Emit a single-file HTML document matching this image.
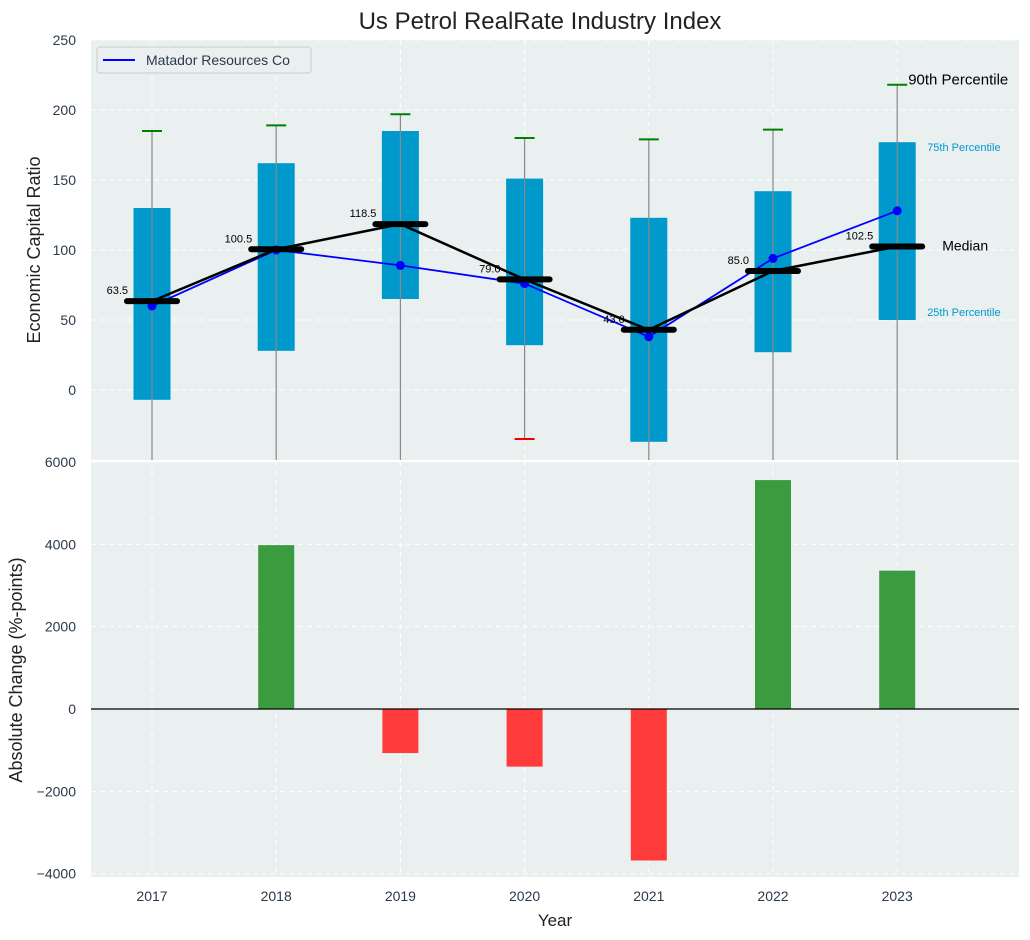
<!DOCTYPE html>
<html><head><meta charset="utf-8"><style>
body{margin:0;background:#fff;}
svg{display:block;font-family:"Liberation Sans",sans-serif;}
</style></head><body>
<svg id="c" width="1030" height="940" xmlns="http://www.w3.org/2000/svg"></svg>
<script>
const years=["2017","2018","2019","2020","2021","2022","2023"];
const q25=[-7,28,65,32,-37,27,50];
const q75=[130,162,185,151,123,142,177];
const p90=[185,189,197,180,179,186,218];
const p10=[-60,-60,-60,-35,-60,-60,-60];
const medians=[63.5,100.5,118.5,79.0,43.0,85.0,102.5];
const company=[60,100,89,76,38,94,128];
const changes=[0,3980,-1070,-1400,-3680,5560,3360];
const topTicks=[0,50,100,150,200,250];
const botTicks=[-4000,-2000,0,2000,4000,6000];

const svg=document.getElementById('c');
const NS='http://www.w3.org/2000/svg';
function el(t,a,p){const e=document.createElementNS(NS,t);for(const k in a)e.setAttribute(k,a[k]);(p||svg).appendChild(e);return e;}
const L=91,R=1019;
const x=i=>152+i*124.2;
const yT=v=>390-v*1.4;
const yB=v=>709-v*0.04117;
const TT=40,TB=460,BT=462,BB=877;

let bg=el('rect',{x:L,y:TT,width:R-L,height:TB-TT,fill:'#eaeff0'});

let bg2=el('rect',{x:L,y:BT,width:R-L,height:BB-BT,fill:'#eaeff0'});


topTicks.forEach(v=>{
  const g=el('line',{x1:L,x2:R,y1:yT(v),y2:yT(v),stroke:'#fff','stroke-dasharray':'5,4','stroke-width':1});
  
  const t=el('text',{x:L-15,y:yT(v)+5,'text-anchor':'end','font-size':14,fill:'#2b3a4a'});t.textContent=v;
  
});
botTicks.forEach(v=>{
  const g=el('line',{x1:L,x2:R,y1:yB(v),y2:yB(v),stroke:'#fff','stroke-dasharray':'5,4','stroke-width':1});
  
  const t=el('text',{x:L-15,y:yB(v)+5,'text-anchor':'end','font-size':14,fill:'#2b3a4a'});t.textContent=(v<0?'\u2212'+(-v):v);
  
});
years.forEach((yr,i)=>{
  [[TT,TB],[BT,BB]].forEach(r=>{
    const g=el('line',{x1:x(i),x2:x(i),y1:r[0],y2:r[1],stroke:'#fff','stroke-dasharray':'5,4'});
    
  });
  const t=el('text',{x:x(i),y:901,'text-anchor':'middle','font-size':14,fill:'#2b3a4a'});t.textContent=yr;
  
});

const defs=el('defs',{});
const cp=el('clipPath',{id:'ct'},defs);el('rect',{x:L,y:TT,width:R-L,height:TB-TT},cp);
const gt=el('g',{'clip-path':'url(#ct)'});


years.forEach((yr,i)=>{
  const b=el('rect',{x:x(i)-18.5,y:yT(q75[i]),width:37,height:yT(q25[i])-yT(q75[i]),fill:'#0099cc'},gt);
  
  const w=el('line',{x1:x(i),x2:x(i),y1:yT(p90[i]),y2:yT(p10[i]),stroke:'#888','stroke-width':1.2},gt);
  
  const c=el('line',{x1:x(i)-10,x2:x(i)+10,y1:yT(p90[i]),y2:yT(p90[i]),stroke:'green','stroke-width':2},gt);
  
  if(p10[i]>-50){const c2=el('line',{x1:x(i)-10,x2:x(i)+10,y1:yT(p10[i]),y2:yT(p10[i]),stroke:'#e00','stroke-width':2},gt);
  }
});
const cl=el('polyline',{points:company.map((v,i)=>x(i)+','+yT(v)).join(' '),fill:'none',stroke:'blue','stroke-width':1.8},gt);

company.forEach((v,i)=>{const p=el('circle',{cx:x(i),cy:yT(v),r:4.5,fill:'blue'},gt);
  });
const ml=el('polyline',{points:medians.map((v,i)=>x(i)+','+yT(v)).join(' '),fill:'none',stroke:'#000','stroke-width':2.5},gt);

medians.forEach((v,i)=>{
  const m=el('line',{x1:x(i)-25,x2:x(i)+25,y1:yT(v),y2:yT(v),stroke:'#000','stroke-width':6,'stroke-linecap':'round'},gt);
  
  const t=el('text',{x:x(i)-24,y:yT(v)-7,'text-anchor':'end','font-size':11,fill:'#000'},gt);t.textContent=v.toFixed(1);
  
});
const last=6;
[['90th Percentile',x(last)+11,yT(p90[last])-0.5,15,'#000','annot-90th'],
 ['75th Percentile',x(last)+30,yT(q75[last])+9,11,'#0099cc','annot-75th'],
 ['Median',x(last)+45,yT(medians[last])+4,14,'#000','annot-median'],
 ['25th Percentile',x(last)+30,yT(q25[last])-4,11,'#0099cc','annot-25th']].forEach(a=>{
  const t=el('text',{x:a[1],y:a[2],'font-size':a[3],fill:a[4]});t.textContent=a[0];
  
});

const lg=el('g',{});
el('rect',{x:97,y:47,width:214,height:26,rx:3,fill:'#eaeff0',stroke:'#ccc'},lg);
el('line',{x1:103,x2:135,y1:60,y2:60,stroke:'blue','stroke-width':2},lg);
{const t=el('text',{x:146,y:65,'font-size':14,fill:'#2b3a4a'},lg);t.textContent='Matador Resources Co';
}

changes.forEach((v,i)=>{
  if(v===0)return;
  const y0=yB(Math.max(v,0)),y1=yB(Math.min(v,0));
  const b=el('rect',{x:x(i)-18,y:y0,width:36,height:y1-y0,fill:v>0?'#3a9c3e':'#ff3b3b'});
  
});
{const z=el('line',{x1:L,x2:R,y1:yB(0),y2:yB(0),stroke:'#000','stroke-width':1.2});
}

[['Us Petrol RealRate Industry Index',540,29,24,0,'chart-title'],
 ['Year',555,926,17,0,'x-axis-title'],
 ['Economic Capital Ratio',40,250,18,-90,'top-y-axis-title'],
 ['Absolute Change (%-points)',22,670,18,-90,'bottom-y-axis-title']].forEach(a=>{
  const t=el('text',{x:a[1],y:a[2],'font-size':a[3],'text-anchor':'middle',fill:'#222'});
  if(a[4])t.setAttribute('transform','rotate(-90 '+a[1]+' '+a[2]+')');
  t.textContent=a[0];
});
</script>
</body></html>
